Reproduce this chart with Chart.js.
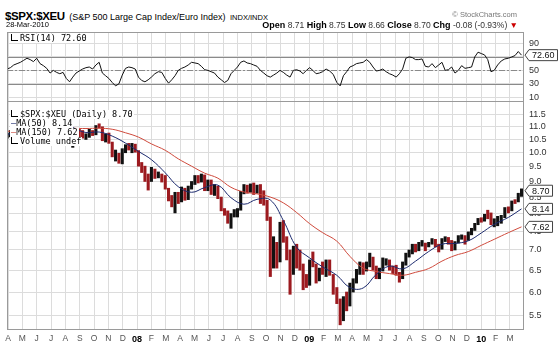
<!DOCTYPE html>
<html><head><meta charset="utf-8">
<script src="https://cdn.jsdelivr.net/npm/chart.js@4.4.1/dist/chart.umd.min.js"></script>
<style>
body{margin:0;background:#fff;width:558px;height:350px;overflow:hidden;position:relative;font-family:Arial,"Liberation Sans",sans-serif;color:#000}
canvas{position:absolute;left:0}
#rsiC{top:32px}
#pxC{top:101px}
.t{position:absolute;white-space:nowrap;line-height:1}
.mono{font-family:"DejaVu Sans Mono","Liberation Mono",monospace;font-size:8.5px;background:#fff;padding:0 1px}
.ico{display:inline-block;width:6px;height:6px;border-left:1px solid #000;border-bottom:1px solid #000;margin-right:2px;vertical-align:0px}
</style></head><body>
<canvas id="rsiC" width="558" height="70"></canvas>
<canvas id="pxC" width="558" height="249"></canvas>

<div class="t" style="left:5px;top:7px"><b style="font-size:11.5px;letter-spacing:-0.4px">$SPX:$XEU</b> <span style="font-size:9px">(S&amp;P 500 Large Cap Index/Euro Index)</span> <span style="font-size:7.5px">INDX/INDX</span></div>
<div class="t" style="left:6px;top:21px;font-size:7.5px">28-Mar-2010</div>
<div class="t" style="right:41px;top:11px;font-size:7.5px;color:#777">© StockCharts.com</div>
<div class="t" style="right:40px;top:21px;font-size:8.5px;color:#333"><b style="color:#000;font-size:9px">Open</b> 8.71 <b style="color:#000;font-size:9px">High</b> 8.75 <b style="color:#000;font-size:9px">Low</b> 8.66 <b style="color:#000;font-size:9px">Close</b> 8.70 <b style="color:#000;font-size:9px">Chg</b> -0.08 (-0.93%) <span style="color:#c00">▼</span></div>

<div class="t mono" style="left:10px;top:34px"><span class="ico"></span>RSI(14) 72.60</div>
<div class="t mono" style="left:10px;top:110px"><span class="ico"></span>$SPX:$XEU (Daily) 8.70</div>
<div class="t mono" style="left:10px;top:119px;"><span style="color:#1c2a6e">—</span>MA(50) 8.14</div>
<div class="t mono" style="left:10px;top:128px;"><span style="color:#c9473a">—</span>MA(150) 7.62</div>
<div class="t mono" style="left:10px;top:137px;"><span class="ico"></span>Volume undef</div>

<script>
// ---------------- data (weekly, first week ends Fri 30-Mar-2007) ----------------
const firstWeekEnd = [2007, 2, 30];
const priceClose = [10.64,10.79,10.74,10.92,10.95,11.08,11.13,11.27,11.26,11.36,11.27,11.43,11.16,11.10,11.23,11.26,11.09,10.66,10.41,10.62,10.74,10.89,10.80,10.60,10.67,10.81,10.70,11.02,11.01,10.50,10.67,10.41,9.90,9.96,9.71,10.11,10.26,10.17,10.31,10.05,
9.57,9.49,9.05,9.02,9.42,9.17,9.21,9.14,8.77,8.43,8.24,8.61,8.33,8.79,8.43,8.79,8.95,9.15,8.99,9.21,8.72,9.00,8.62,8.85,8.47,8.11,8.05,7.77,7.96,8.00,8.10,8.63,8.85,8.69,8.75,8.72,8.82,8.66,8.31,7.96,6.70,7.01,6.90,7.60,7.32,6.94,6.36,7.06,6.89,6.59,6.36,6.18,
6.70,6.63,6.42,6.48,6.45,6.70,6.43,6.00,5.81,5.45,5.86,5.65,6.13,6.25,6.48,6.68,6.54,6.61,6.80,6.53,6.34,6.50,6.73,6.73,6.58,6.51,6.41,6.30,6.66,6.89,6.93,7.12,7.07,7.16,7.17,7.10,7.15,7.26,7.11,7.04,7.27,7.29,7.20,7.04,7.19,7.34,7.34,7.28,7.44,7.56,7.69,7.84,7.79,
7.95,7.90,7.72,7.74,7.79,7.89,8.15,8.11,8.36,8.35,8.57,8.70];
const priceHigh = [10.75,10.85,10.88,10.98,11.05,11.15,11.20,11.30,11.32,11.42,11.40,11.46,11.42,11.25,11.27,11.33,11.30,11.12,10.80,10.82,10.78,10.92,10.92,10.85,10.72,10.90,10.85,11.05,11.12,11.00,10.72,10.75,10.40,10.10,9.98,10.15,10.30,10.35,10.35,10.32,
10.08,9.65,9.52,9.25,9.48,9.42,9.32,9.25,9.20,8.78,8.55,8.65,8.65,8.82,8.78,8.85,9.00,9.20,9.20,9.25,9.22,9.05,9.05,8.90,8.85,8.50,8.15,8.08,8.00,8.12,8.15,8.68,8.90,8.88,8.92,8.95,8.88,8.90,8.70,8.40,7.90,7.35,7.20,7.75,7.80,7.35,7.00,7.10,7.15,7.00,6.65,6.40,
6.75,6.95,6.65,6.55,6.70,6.75,6.75,6.40,6.10,5.85,5.90,6.00,6.20,6.30,6.52,6.70,6.68,6.70,6.92,6.82,6.60,6.55,6.80,6.78,6.75,6.60,6.62,6.45,6.70,6.92,7.00,7.15,7.15,7.20,7.25,7.18,7.20,7.30,7.28,7.15,7.30,7.35,7.33,7.25,7.22,7.38,7.40,7.38,7.48,7.58,7.72,7.86,7.88,
7.98,8.10,8.02,7.85,7.92,7.95,8.18,8.20,8.38,8.42,8.62,8.76];
const priceLow = [10.55,10.60,10.68,10.70,10.88,10.92,10.98,11.08,11.15,11.22,11.05,11.20,11.12,10.98,11.05,11.10,11.05,10.60,10.35,10.35,10.20,10.62,10.58,10.55,10.50,10.58,10.65,10.68,10.95,10.45,10.40,10.35,9.85,9.70,9.62,9.60,10.00,10.10,10.00,10.02,
9.52,9.30,9.00,8.72,9.00,9.10,9.12,8.98,8.75,8.38,8.20,8.02,8.30,8.35,8.40,8.42,8.75,8.90,8.95,8.98,8.70,8.70,8.58,8.55,8.45,8.08,7.95,7.72,7.58,7.90,7.90,8.10,8.60,8.62,8.65,8.58,8.62,8.30,8.25,7.80,6.35,6.55,6.55,6.70,7.20,6.75,5.95,6.40,6.55,6.50,6.05,6.10,
6.15,6.58,6.20,6.25,6.40,6.35,6.38,5.95,5.75,5.32,5.40,5.60,5.70,6.00,6.20,6.40,6.40,6.48,6.58,6.50,6.30,6.30,6.48,6.62,6.50,6.42,6.38,6.22,6.30,6.62,6.82,6.90,6.95,6.98,7.10,6.98,7.08,7.15,7.08,6.95,7.02,7.22,7.15,6.98,7.00,7.18,7.28,7.15,7.25,7.40,7.52,7.68,7.75,
7.78,7.85,7.68,7.62,7.65,7.72,7.88,8.02,8.08,8.30,8.35,8.52];
const rsiValues = [52,54,58,60,62,65,68,66,63,68,60,57,53,46,50,47,45,47,38,33,40,46,49,52,54,55,52,58,62,46,42,38,32,27,30,43,53,55,54,52,
40,35,33,36,40,45,48,47,38,31,36,42,50,53,55,58,62,61,60,56,51,50,48,46,40,36,32,35,45,50,55,62,64,61,60,58,56,50,46,42,40,43,46,50,47,43,40,50,51,49,45,50,
54,50,45,46,48,52,49,44,32,27,42,48,55,57,60,61,62,66,62,55,49,50,52,48,45,43,40,45,52,68,70,69,66,66,67,56,55,60,54,58,62,50,51,55,46,50,57,53,54,55,70,77,75,
73,66,48,50,58,64,67,68,70,72,78,72.6];
const maStepWeeks = 4;
const ma50 = [10.70,10.78,10.94,11.18,11.24,10.97,10.77,10.79,10.63,10.36,10.05,9.75,9.29,8.83,8.65,8.80,8.88,8.48,8.28,8.43,8.41,7.80,7.07,6.80,6.58,6.38,6.10,6.09,6.40,6.60,6.53,6.72,6.96,7.15,7.17,7.24,7.45,7.69,7.89,8.14];
const ma150 = [10.82,10.84,10.89,10.95,10.98,10.94,10.93,10.94,10.90,10.76,10.59,10.33,10.09,9.78,9.52,9.28,9.11,8.81,8.66,8.60,8.50,8.32,8.03,7.71,7.46,7.23,6.84,6.55,6.47,6.42,6.38,6.45,6.54,6.72,6.86,6.96,7.12,7.28,7.46,7.62];
const lastValues = {close: 8.70, ma50: 8.14, ma150: 7.62, rsi: 72.60};
const monthLetters = ['J','F','M','A','M','J','J','A','S','O','N','D'];
const firstMonth = [2007, 3]; // April 2007
const monthCount = 36;
const priceTicks = [5.5,6.0,6.5,7.0,7.5,8.0,8.5,9.0,9.5,10.0,10.5,11.0,11.5];
const rsiTicks = [10,30,50,70,90];
const rsiBands = [30,50,70];

// ---------------- helpers ----------------
function weekPos(i){
  const d = new Date(firstWeekEnd[0], firstWeekEnd[1], firstWeekEnd[2] + 7*i);
  const dim = new Date(d.getFullYear(), d.getMonth()+1, 0).getDate();
  return (d.getFullYear()-firstMonth[0])*12 + d.getMonth() - firstMonth[1] + (d.getDate()-1)/dim;
}
function monthLabel(k){
  if (k == null || isNaN(k)) return '';
  const m = (firstMonth[1] + k) % 12;
  const y = firstMonth[0] + Math.floor((firstMonth[1] + k)/12);
  return m === 0 ? String(y).slice(2) : monthLetters[m];
}
function isYear(c){ return c && c.index != null && monthLabel(c.index).length > 1; }
const X_MIN = -0.07, X_MAX = 35.98;
const GRID = '#dcdcdc';

function xScale(showLabels){
  return {
    type:'linear', min:X_MIN, max:X_MAX, offset:false,
    grid:{color:GRID, drawTicks:false, offset:false},
    border:{display:false},
    ticks:{display:showLabels, autoSkip:false, maxRotation:0, padding:4,
      color:(c)=> isYear(c) ? '#000' : '#555',
      font:(c)=> ({family:'Arial', size: isYear(c) ? 9 : 8.5, weight: isYear(c) ? 'bold':'normal'}),
      callback:(v,i)=>monthLabel(i)},
    afterBuildTicks:(s)=>{ s.ticks = Array.from({length:monthCount},(_,k)=>({value:k})); },
    afterFit:(s)=>{ s.paddingLeft=0; s.paddingRight=0; s.height = showLabels ? 20 : 0; }
  };
}

function drawTag(ctx, x, y, text){
  ctx.save();
  ctx.font = '9px Arial';
  const w = ctx.measureText(text).width + 6, h = 11;
  ctx.beginPath();
  ctx.moveTo(x, y);
  ctx.lineTo(x+4, y-h/2);
  ctx.lineTo(x+4+w, y-h/2);
  ctx.lineTo(x+4+w, y+h/2);
  ctx.lineTo(x+4, y+h/2);
  ctx.closePath();
  ctx.fillStyle = '#fff'; ctx.fill();
  ctx.strokeStyle = '#444'; ctx.lineWidth = 1; ctx.stroke();
  ctx.fillStyle = '#111'; ctx.textBaseline='middle'; ctx.textAlign='left';
  ctx.fillText(text, x+7, y+0.5);
  ctx.restore();
}

const borderPlugin = {
  id:'panelBorder',
  afterDraw(chart){
    const {ctx, chartArea:a} = chart;
    ctx.save(); ctx.strokeStyle='#9a9a9a'; ctx.lineWidth=1;
    ctx.strokeRect(Math.round(a.left)+0.5, Math.round(a.top)+0.5, Math.round(a.right-a.left)-1, Math.round(a.bottom-a.top)-1);
    ctx.restore();
  }
};

// ---------------- RSI panel ----------------
const rsiBandPlugin = {
  id:'rsiBands',
  beforeDatasetsDraw(chart){
    const {ctx, chartArea:a, scales:{y}} = chart;
    ctx.save(); ctx.strokeStyle='#8a8a8a'; ctx.lineWidth=1;
    rsiBands.forEach(v=>{
      const py = Math.round(y.getPixelForValue(v))+0.5;
      ctx.setLineDash(v===50 ? [6,2,2,2] : []);
      ctx.beginPath(); ctx.moveTo(a.left, py); ctx.lineTo(a.right, py); ctx.stroke();
    });
    ctx.restore();
  },
  afterDraw(chart){
    const y = chart.scales.y;
    drawTag(chart.ctx, chart.chartArea.right+1, y.getPixelForValue(lastValues.rsi), lastValues.rsi.toFixed(2));
  }
};

new Chart(document.getElementById('rsiC'), {
  type:'line',
  data:{datasets:[{
    data: rsiValues.map((v,i)=>({x:weekPos(i), y:v})),
    borderColor:'#111', borderWidth:1, pointRadius:0, tension:0
  }]},
  options:{
    responsive:false, animation:false, events:[],
    layout:{padding:{left:7, right:0, top:0, bottom:0}},
    plugins:{legend:{display:false}, tooltip:{enabled:false}},
    scales:{
      x: xScale(false),
      y:{type:'linear', position:'right', min:3, max:107,
        grid:{color:GRID, drawTicks:false}, border:{display:false},
        ticks:{color:'#333', font:{family:'Arial', size:9}, padding:5, callback:(v)=>String(v)},
        afterBuildTicks:(s)=>{ s.ticks = rsiTicks.map(v=>({value:v})); },
        afterFit:(s)=>{ s.width=34; s.paddingTop=0; s.paddingBottom=0; }
      }
    }
  },
  plugins:[rsiBandPlugin, borderPlugin]
});

// ---------------- Price panel ----------------
const barColors = priceClose.map((c,i)=> (i===0 || c >= priceClose[i-1]) ? '#111' : '#9c1a1f');
const maX = ma50.map((_,k)=>weekPos(k*maStepWeeks));

const priceTagPlugin = {
  id:'priceTags',
  afterDraw(chart){
    const y = chart.scales.y, r = chart.chartArea.right+1;
    drawTag(chart.ctx, r, y.getPixelForValue(lastValues.ma150), lastValues.ma150.toFixed(2));
    drawTag(chart.ctx, r, y.getPixelForValue(lastValues.ma50), lastValues.ma50.toFixed(2));
    drawTag(chart.ctx, r, y.getPixelForValue(lastValues.close), lastValues.close.toFixed(2));
  }
};

new Chart(document.getElementById('pxC'), {
  type:'bar',
  data:{datasets:[
    {type:'line', label:'MA(50)', data: ma50.map((v,k)=>({x:maX[k], y:v})), borderColor:'#1c2a6e', borderWidth:1, pointRadius:0, tension:0.4, order:0},
    {type:'line', label:'MA(150)', data: ma150.map((v,k)=>({x:maX[k], y:v})), borderColor:'#cf4a3c', borderWidth:1, pointRadius:0, tension:0.4, order:1},
    {type:'bar', label:'$SPX:$XEU', data: priceHigh.map((h,i)=>({x:weekPos(i), y:[priceLow[i], h]})),
      backgroundColor: barColors, borderWidth:0, barThickness:2.4, order:2}
  ]},
  options:{
    responsive:false, animation:false, events:[],
    layout:{padding:{left:7, right:0, top:0, bottom:0}},
    plugins:{legend:{display:false}, tooltip:{enabled:false}},
    scales:{
      x: xScale(true),
      y:{type:'logarithmic', position:'right', min:5.22, max:12.09,
        grid:{color:GRID, drawTicks:false}, border:{display:false},
        ticks:{color:'#333', font:{family:'Arial', size:9}, padding:5, callback:(v)=>Number(v).toFixed(1)},
        afterBuildTicks:(s)=>{ s.ticks = priceTicks.map(v=>({value:v})); },
        afterFit:(s)=>{ s.width=34; s.paddingTop=0; s.paddingBottom=0; }
      }
    }
  },
  plugins:[priceTagPlugin, borderPlugin]
});
</script>
</body></html>
